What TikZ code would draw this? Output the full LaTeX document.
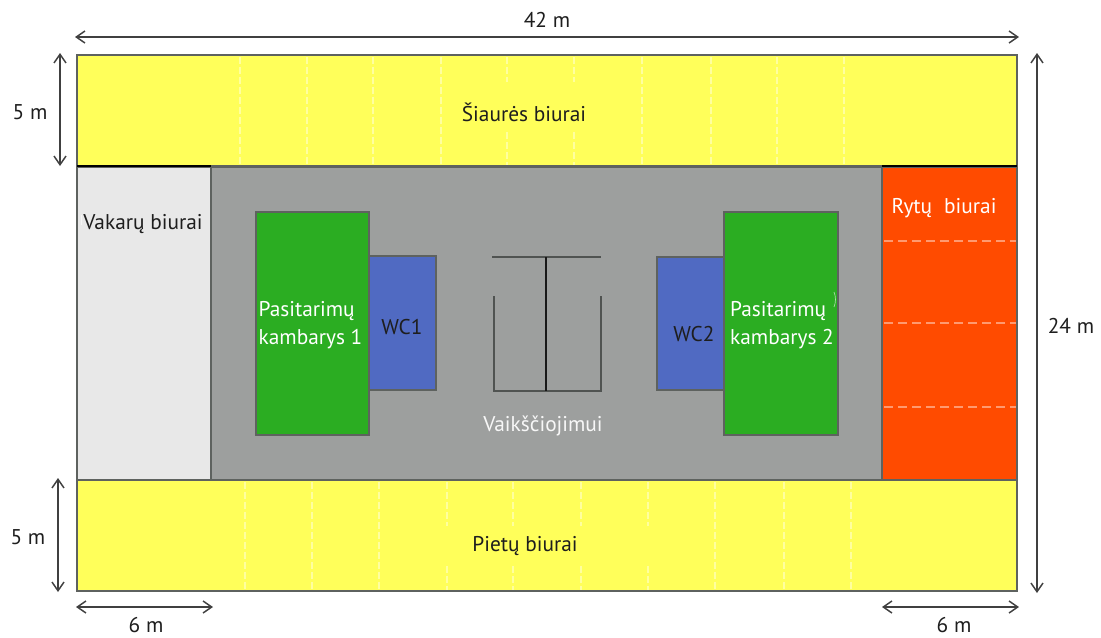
\documentclass[tikz,border=0pt]{standalone}
\usepackage{fontspec}
\setmainfont{PT Sans}
\usetikzlibrary{arrows.meta}
\definecolor{yel}{HTML}{FFFF5A}
\definecolor{hall}{HTML}{9D9F9E}
\definecolor{pale}{HTML}{E8E8E8}
\definecolor{grn}{HTML}{2BAD22}
\definecolor{blu}{HTML}{506AC2}
\definecolor{org}{HTML}{FF4B00}
\definecolor{edge}{HTML}{5E625F}
\definecolor{lbl}{HTML}{1E1E1E}
\tikzset{
  room/.style={draw=edge,line width=1.3pt,inner sep=0pt,outer sep=0pt},
  dim/.style={draw=black!75,line width=1.1pt,{Straight Barb[length=6.5pt,width=9pt,line width=1.1pt]}-{Straight Barb[length=6.5pt,width=9pt,line width=1.1pt]}},
  dimtext/.style={font=\fontsize{16}{16}\selectfont,text=lbl,inner sep=0pt},
  words/.style={font=\fontsize{16}{21}\selectfont,inner sep=0pt,align=center},
  dashline/.style={draw=white,opacity=.42,line width=.9pt,dash pattern=on 5pt off 2.5pt},
  ovd/.style={draw=white!80!org,opacity=.55,line width=1.2pt,dash pattern=on 6.5pt off 4pt},
  walls/.style={draw=edge!85!black,line width=1.5pt},
  mid/.style={draw=black!90,line width=1.5pt},
  heavy/.style={draw=black,line width=1.5pt},
  speck/.style={draw=white,opacity=.6,line width=.5pt}
}
\begin{document}
\begin{tikzpicture}[x=.75pt,y=-.75pt]
\useasboundingbox (0,0) rectangle (1101,637);
% wings
\node[room,fill=yel,minimum width=705pt,minimum height=83.25pt,anchor=north west] (north) at (77,55) {};
\node[room,fill=yel,minimum width=705pt,minimum height=83.25pt,anchor=north west] (south) at (77,480) {};
\node[room,fill=pale,minimum width=100.5pt,minimum height=234.75pt,anchor=north west] (west) at (77,167) {};
\node[room,fill=hall,minimum width=503.25pt,minimum height=234.75pt,anchor=north west] (hall) at (211,167) {};
\node[room,fill=org,minimum width=101.25pt,minimum height=234.75pt,anchor=north west] (east) at (882,167) {};
% separators in the yellow wings
\foreach \x in {240,307,373,441,642,711,777,844}
  \draw[dashline] (\x,57) -- (\x,165);
\foreach \x in {507,574}{
  \draw[dashline] (\x,57) -- (\x,82);
  \draw[dashline] (\x,132) -- (\x,165);}
\foreach \x in {245,312,379,715,784,851}
  \draw[dashline] (\x,482) -- (\x,590);
\foreach \x in {447,513,581,648}{
  \draw[dashline] (\x,482) -- (\x,526);
  \draw[dashline] (\x,566) -- (\x,590);}
% separators in the east wing
\foreach \y in {241,323,407}
  \draw[ovd] (884,\y) -- (1016,\y);
% black top edges
\draw[heavy] (north.south west) -- (north.south west -| west.east);
\draw[heavy] (north.south east -| east.west) -- (north.south east);
% rooms
\node[room,fill=blu,minimum width=50.25pt,minimum height=100.5pt,anchor=north west] (wc1) at (369,256) {};
\node[room,fill=blu,minimum width=50.25pt,minimum height=99.75pt,anchor=north west] (wc2) at (657,257) {};
\node[room,fill=grn,minimum width=84.75pt,minimum height=167.25pt,anchor=north west] (room1) at (256,212) {};
\node[room,fill=grn,minimum width=85.5pt,minimum height=167.25pt,anchor=north west] (room2) at (724,212) {};
% lift
\coordinate (ltl) at (492,257);
\coordinate (ltr) at (601,257);
\coordinate (ltm) at (546,257);
\coordinate (lbm) at (546,391);
\coordinate (lsl) at (494,296);
\coordinate (lbl) at (494,391);
\coordinate (lsr) at (601,296);
\coordinate (lbr) at (601,391);
\draw[walls] (ltl) -- (ltr);
\draw[walls] (lsl) -- (lbl) -- (lbr) -- (lsr);
\draw[mid] (ltm) -- (lbm);
% specks
\draw[speck] (834,292) .. controls (836,297) and (836,302) .. (834,307);
\draw[speck] (81,215) -- (81,225);
% labels
\node[words,text=lbl] (tn) at (524,112) {Šiaurės biurai};
\node[words,text=lbl] (ts) at (525,546) {Pietų biurai};
\node[words,text=lbl] (tw) at (143,224) {Vakarų biurai};
\node[words,text=white] (te) at (944,208) {Rytų\hspace{9pt}biurai};
\node[words,text=white,align=left] (t1) at (310.5,325) {Pasitarimų\\kambarys 1};
\node[words,text=white,align=left] (t2) at (782,325) {Pasitarimų\\kambarys 2};
\node[words,text=lbl] (c1) at (402,327) {WC1};
\node[words,text=lbl] (c2) at (694,334) {WC2};
\node[words,text=white!92!hall] (tv) at (543,426) {Vaikščiojimui};
% dimensions
\coordinate (a1) at (75,37);   \coordinate (a2) at (1019,37);
\coordinate (b1) at (60,53);   \coordinate (b2) at (60,166);
\coordinate (c1a) at (58,478); \coordinate (c2a) at (58,592);
\coordinate (d1) at (1037,53); \coordinate (d2) at (1037,593);
\coordinate (e1) at (76,607);  \coordinate (e2) at (213,607);
\coordinate (f1) at (882,607); \coordinate (f2) at (1019,607);
\draw[dim] (a1) -- (a2);
\draw[dim] (b1) -- (b2);
\draw[dim] (c1a) -- (c2a);
\draw[dim] (d1) -- (d2);
\draw[dim] (e1) -- (e2);
\draw[dim] (f1) -- (f2);
\node[dimtext] (l42) at (547,20) {42 m};
\node[dimtext] (l5a) at (30,112) {5 m};
\node[dimtext] (l5b) at (28,537) {5 m};
\node[dimtext] (l24) at (1071,326) {24 m};
\node[dimtext] (l6a) at (146,625) {6 m};
\node[dimtext] (l6b) at (954,625) {6 m};
\end{tikzpicture}
\end{document}
